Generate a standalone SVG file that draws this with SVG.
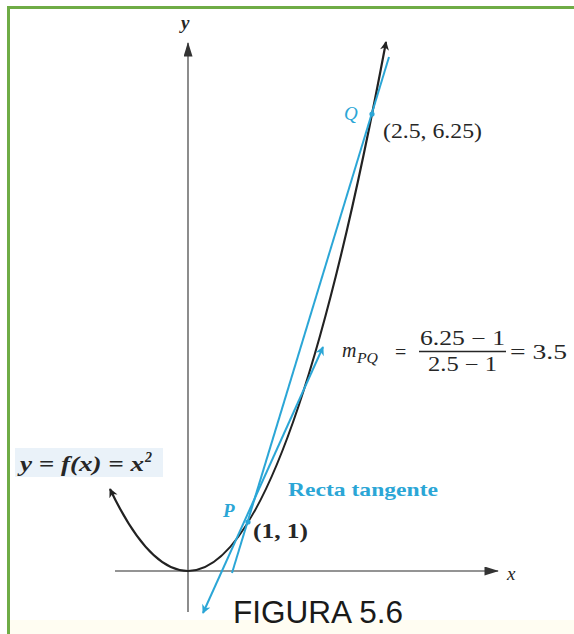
<svg xmlns="http://www.w3.org/2000/svg" width="574" height="634" viewBox="0 0 574 634">
<style>
.serif{font-family:"Liberation Serif","Times New Roman",serif;}
.it{font-style:italic;}
.blue{fill:#2ba6d6;}
.dark{fill:#262626;}
.axis{stroke:#707070;stroke-width:1.6;fill:none;}
.curve{stroke:#222;stroke-width:2.2;fill:none;}
.bl{stroke:#2ba6d6;stroke-width:2;fill:none;}
</style>
<defs>
<marker id="ah-axisL" viewBox="0 0 16 10" refX="15" refY="5" markerWidth="16" markerHeight="9" markerUnits="userSpaceOnUse" orient="auto-start-reverse">
<path d="M0,0 L16,5 L0,10 Z" fill="#333"/>
</marker>
<marker id="ah-curve" viewBox="0 0 10 10" refX="9" refY="5" markerWidth="11" markerHeight="9" markerUnits="userSpaceOnUse" orient="auto-start-reverse">
<path d="M0,0 L10,5 L0,10 L3,5 Z" fill="#222"/>
</marker>
<marker id="ah-blue" viewBox="0 0 10 10" refX="9" refY="5" markerWidth="11" markerHeight="9" markerUnits="userSpaceOnUse" orient="auto-start-reverse">
<path d="M0,0 L10,5 L0,10 L3,5 Z" fill="#2ba6d6"/>
</marker>
</defs>
<rect x="0" y="0" width="574" height="634" fill="#ffffff"/>
<rect x="9" y="620" width="565" height="14" fill="#fffdf2"/>
<line x1="8.5" y1="7.5" x2="574" y2="7.5" stroke="#6fac46" stroke-width="3"/>
<line x1="8.5" y1="6" x2="8.5" y2="634" stroke="#6fac46" stroke-width="3"/>
<g id="connectors">
<line id="y-axis" class="axis" x1="188" y1="612" x2="188" y2="43" marker-end="url(#ah-axisL)"/>
<line id="x-axis" class="axis" x1="115" y1="571" x2="498" y2="571" marker-end="url(#ah-axisL)"/>
<path id="parabola" class="curve" d="M110,489 Q149,571 188,571 Q287,571 386,42" marker-start="url(#ah-curve)" marker-end="url(#ah-curve)"/>
<line id="secant" class="bl" x1="232" y1="573" x2="389" y2="57"/>
<line id="tangent" class="bl" x1="203" y1="613" x2="323" y2="347" marker-start="url(#ah-blue)" marker-end="url(#ah-blue)"/>
</g>
<g id="point-Q">
<circle cx="372" cy="114" r="2.6" fill="#2ba6d6"/>
<text class="serif it blue" x="344" y="120" font-size="19">Q</text>
<text class="serif dark" x="383" y="138" font-size="21" textLength="99" lengthAdjust="spacingAndGlyphs">(2.5, 6.25)</text>
</g>
<g id="point-P">
<circle cx="248" cy="522" r="2.6" fill="#2ba6d6"/>
<text class="serif it blue" x="223" y="517" font-size="19" font-weight="bold">P</text>
<text class="serif dark" x="253" y="538" font-size="21" font-weight="bold" textLength="55" lengthAdjust="spacingAndGlyphs">(1, 1)</text>
</g>
<g id="label-slope">
<text class="serif it dark" x="342" y="357" font-size="20">m</text>
<text class="serif it dark" x="357" y="363" font-size="14" textLength="21" lengthAdjust="spacingAndGlyphs">PQ</text>
<text class="serif dark" x="395" y="359" font-size="20">=</text>
<text class="serif dark" x="420" y="345" font-size="20" textLength="85" lengthAdjust="spacingAndGlyphs">6.25 − 1</text>
<line x1="419" y1="351.5" x2="506" y2="351.5" stroke="#262626" stroke-width="1.3"/>
<text class="serif dark" x="428" y="371" font-size="20" textLength="69" lengthAdjust="spacingAndGlyphs">2.5 − 1</text>
<text class="serif dark" x="510" y="359" font-size="20" textLength="57" lengthAdjust="spacingAndGlyphs">= 3.5</text>
</g>
<g id="label-tangent">
<text class="serif blue" x="288" y="496" font-size="19" font-weight="bold" textLength="150" lengthAdjust="spacingAndGlyphs">Recta tangente</text>
</g>
<g id="label-function">
<rect x="15" y="448" width="148" height="29" fill="#eaf2f9"/>
<text class="serif it dark" x="20" y="471" font-size="20" font-weight="bold" textLength="124" lengthAdjust="spacingAndGlyphs">y = f(x) = x</text>
<text class="serif it dark" x="145" y="462" font-size="14" font-weight="bold">2</text>
</g>
<g id="axis-labels">
<text class="serif it dark" x="181" y="29" font-size="19" font-weight="bold">y</text>
<text class="serif it dark" x="507" y="580" font-size="19">x</text>
</g>
<g id="caption">
<text x="233" y="623" font-family="'Liberation Sans',Arial,sans-serif" font-size="31" fill="#1a1a1a" textLength="170" lengthAdjust="spacingAndGlyphs">FIGURA 5.6</text>
</g>
</svg>
